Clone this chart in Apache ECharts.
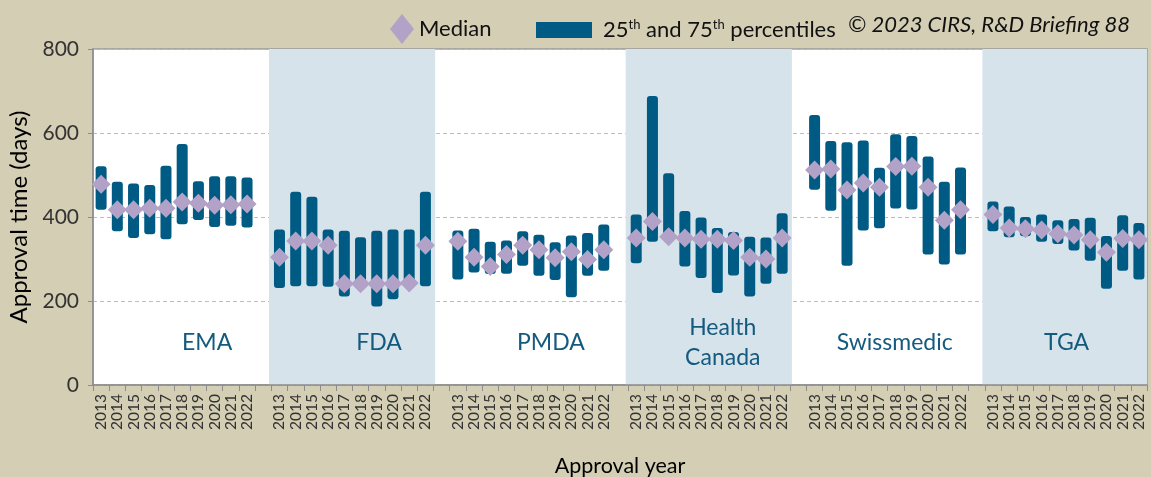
<!DOCTYPE html>
<html>
<head>
<meta charset="utf-8">
<script src="https://cdn.jsdelivr.net/npm/echarts@6/dist/echarts.min.js"></script>
<style>
html,body{margin:0;padding:0;background:#D3CEB4;}
#chart{width:1151px;height:477px;}
</style>
</head>
<body>
<div id="chart"></div>
<script>
// ---- data ----
const agencies = ['EMA', 'FDA', 'PMDA', 'Health\nCanada', 'Swissmedic', 'TGA'];
const years = ['2013','2014','2015','2016','2017','2018','2019','2020','2021','2022'];
const yTicks = [0, 200, 400, 600, 800];

// 75th percentile (days), per agency, 2013..2022
const p75 = [
  [521, 484, 480, 476, 522, 574, 485, 497, 497, 494],
  [370, 460, 448, 370, 367, 352, 367, 370, 370, 460],
  [368, 372, 341, 344, 366, 358, 340, 356, 362, 382],
  [406, 688, 504, 414, 399, 374, 364, 353, 351, 409],
  [643, 581, 578, 582, 517, 597, 593, 544, 484, 518],
  [437, 425, 400, 406, 392, 395, 398, 355, 404, 386]
];
// 25th percentile (days)
const p25 = [
  [417, 366, 350, 359, 347, 383, 393, 376, 379, 375],
  [231, 235, 235, 234, 211, 232, 187, 204, 232, 235],
  [251, 268, 264, 265, 284, 260, 250, 209, 260, 272],
  [290, 341, 345, 282, 255, 219, 261, 211, 241, 265],
  [465, 415, 284, 368, 373, 420, 418, 311, 287, 311],
  [366, 352, 354, 341, 336, 320, 296, 229, 272, 251]
];
// Median (days)
const median = [
  [478, 417, 417, 421, 421, 436, 433, 428, 429, 431],
  [304, 343, 343, 333, 241, 241, 241, 241, 243, 333],
  [342, 304, 282, 311, 333, 322, 303, 317, 299, 322],
  [350, 389, 353, 350, 347, 347, 344, 304, 300, 350],
  [512, 514, 464, 481, 471, 520, 521, 471, 392, 417],
  [406, 374, 372, 369, 360, 357, 346, 316, 349, 346]
];
const shadedAgencies = [1, 3, 5]; // FDA, Health Canada, TGA

// ---- build flat category arrays (one empty gap category between agencies) ----
const cats = [], base = [], span = [], med = [];
agencies.forEach((a, i) => {
  years.forEach((y, j) => {
    cats.push(y);
    base.push(p25[i][j]);
    span.push(p75[i][j] - p25[i][j]);
    med.push(median[i][j]);
  });
  if (i < agencies.length - 1) {
    cats.push(' ');
    base.push(null); span.push(null); med.push(null);
  }
});
const nCat = cats.length;
const per = years.length + 1;

const FONT = 'Lato';
const bandData = shadedAgencies.map(i => [
  { xAxis: i * per - 0.15 },
  { xAxis: i * per + years.length + 0.1 }
]);
const labelData = agencies.map((a, i) => ({ name: a, value: [i * 10.6 + 7.04, 100] }));

const chart = echarts.init(document.getElementById('chart'));
chart.setOption({
  backgroundColor: '#D3CEB4',
  animation: false,
  textStyle: { fontFamily: FONT },
  grid: {
    left: 93, right: 4, top: 49, bottom: 92,
    outerBoundsMode: 'none', containLabel: false,
    show: true, backgroundColor: '#FFFFFF', borderColor: '#9A9A9A', borderWidth: 1.5
  },
  legend: [
    {
      data: ['Median'], left: 385, top: 9,
      itemWidth: 24, itemHeight: 30, itemGap: 6,
      textStyle: { fontFamily: FONT, fontSize: 22, color: '#111' }
    },
    {
      data: [{ name: '25th and 75th percentiles', icon: 'rect' }], left: 531, top: 13,
      itemWidth: 56, itemHeight: 16, itemGap: 10,
      formatter: () => '{g|}25{sup|th} and 75{sup|th} percentiles',
      textStyle: {
        fontFamily: FONT, fontSize: 22, color: '#111',
        rich: {
          g: { width: 6 },
          sup: { fontSize: 13, verticalAlign: 'top', padding: [0, 0, 11, 0], fontFamily: FONT, color: '#111' }
        }
      }
    }
  ],
  graphic: [{
    type: 'text', left: 848, top: 14,
    style: { text: '© 2023 CIRS, R&D Briefing 88', font: 'italic 22px ' + FONT, fill: '#111' }
  }],
  xAxis: [
    {
      type: 'category', data: cats, boundaryGap: true,
      name: 'Approval year', nameLocation: 'middle', nameGap: 70,
      nameTextStyle: { fontFamily: FONT, fontSize: 21.5, color: '#000' },
      axisLine: { lineStyle: { color: '#8C8C8C', width: 1.5 } },
      axisTick: { show: true, interval: 0, length: 6, lineStyle: { color: '#8C8C8C' } },
      axisLabel: { interval: 0, rotate: 90, fontSize: 15.5, color: '#333', margin: 9, fontFamily: FONT },
      splitLine: { show: false }
    },
    { type: 'value', min: 0, max: nCat, show: false }
  ],
  yAxis: {
    type: 'value', min: yTicks[0], max: yTicks[yTicks.length - 1], interval: 200,
    name: 'Approval time (days)', nameLocation: 'middle', nameGap: 61,
    nameTextStyle: { fontFamily: FONT, fontSize: 24, color: '#000' },
    axisLine: { show: true, lineStyle: { color: '#8C8C8C', width: 1.5 } },
    axisTick: { show: true, length: 5, lineStyle: { color: '#8C8C8C' } },
    axisLabel: { fontSize: 21, color: '#333', margin: 14, fontFamily: FONT },
    splitLine: { show: true, lineStyle: { type: [4, 3], color: '#BDBDBD', width: 1 } }
  },
  series: [
    {
      name: 'bands', type: 'line', xAxisIndex: 1, data: [], silent: true, z: 0,
      markArea: { silent: true, itemStyle: { color: '#D6E3EA' }, data: bandData, z: 0 }
    },
    {
      name: 'base', type: 'bar', stack: 'box', data: base, barWidth: 11,
      itemStyle: { color: 'rgba(0,0,0,0)' }, silent: true, z: 2
    },
    {
      name: '25th and 75th percentiles', type: 'bar', stack: 'box', data: span, barWidth: 11,
      itemStyle: { color: '#005B84', borderRadius: 3 }, z: 3
    },
    {
      name: 'Median', type: 'scatter', data: med, symbol: 'diamond', symbolSize: [19, 19],
      itemStyle: { color: '#B3A2C7', opacity: 1 }, z: 5
    },
    {
      name: 'agencyLabels', type: 'scatter', xAxisIndex: 1, data: labelData, symbolSize: 0,
      silent: true, z: 6, itemStyle: { opacity: 1 },
      label: {
        show: true, position: 'inside', formatter: p => p.name,
        fontFamily: FONT, fontSize: 23, color: '#14597E', lineHeight: 30
      }
    }
  ]
});
</script>
</body>
</html>
